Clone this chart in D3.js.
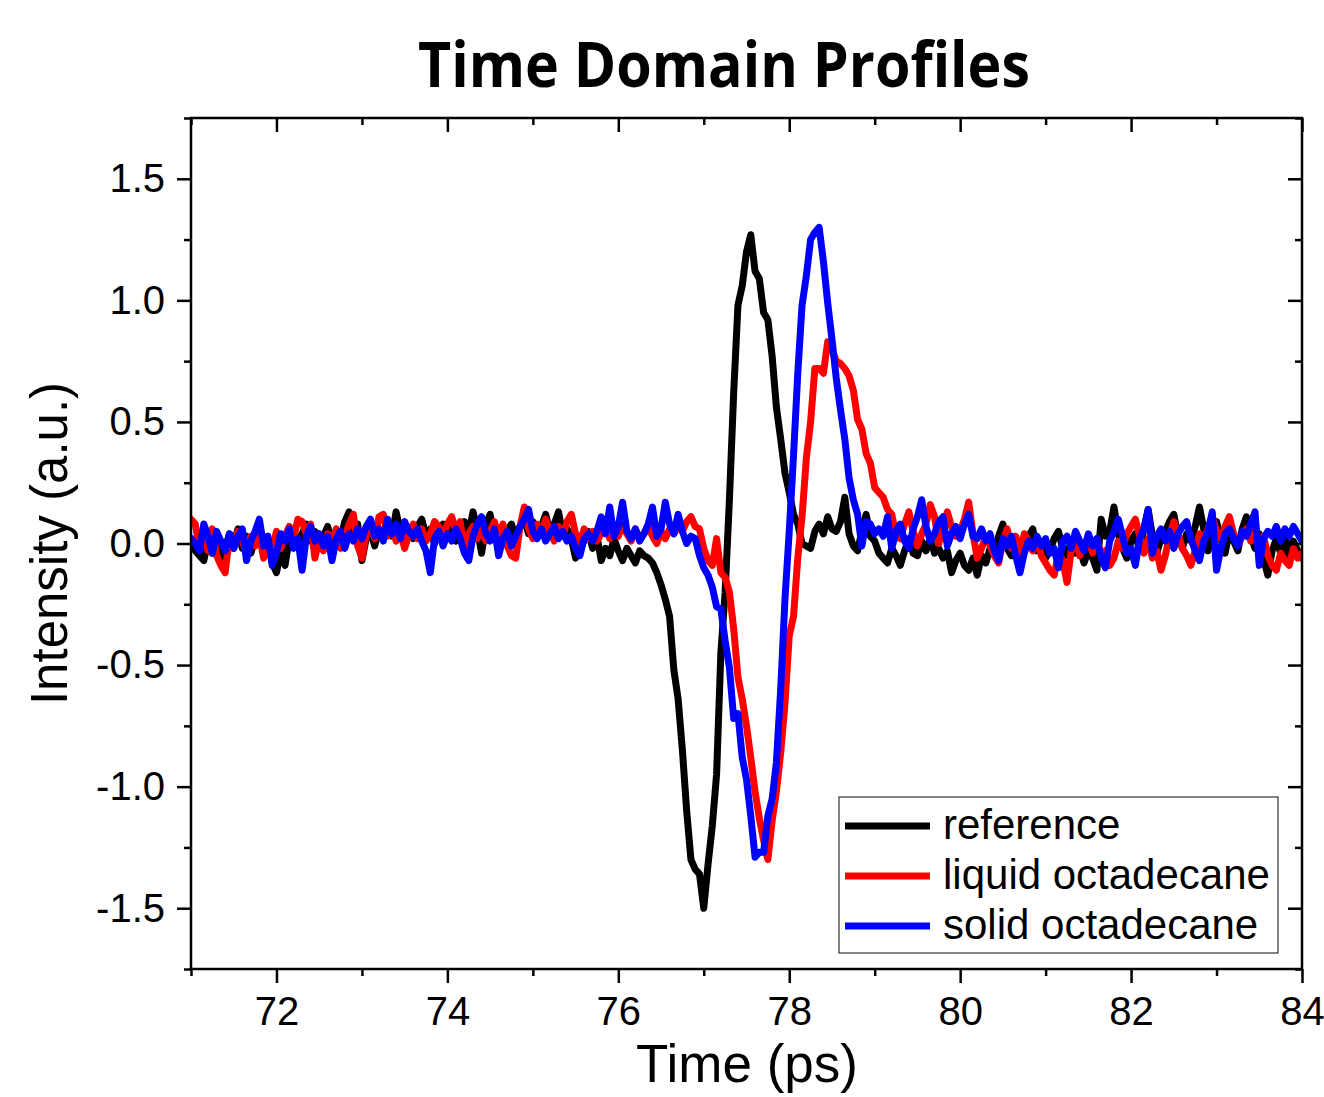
<!DOCTYPE html>
<html>
<head>
<meta charset="utf-8">
<script src="https://cdn.jsdelivr.net/npm/d3@7/dist/d3.min.js"></script>
<style>
  html, body { margin: 0; padding: 0; background: #fff; }
  svg { display: block; }
</style>
</head>
<body>
<svg id="chart"></svg>
<script>
// Sampling grid (ps): 71.00 ... 84.00, one sample every 0.05 ps
const timeStart = 71;
const timeStep = 0.05;

// Intensity (a.u.), one row per picosecond
const reference = [
  0.02,-0.03,-0.05,-0.07,0.01,-0.04,0.03,-0.06,-0.02,0.04,0.00,0.06,-0.02,0.03,-0.04,0.02,0.05,-0.03,0.01,-0.08,
  -0.12,-0.03,-0.09,0.02,0.06,-0.01,0.04,0.08,0.01,0.05,-0.02,0.03,0.07,0.00,0.05,0.02,0.09,0.13,0.04,0.08,
  -0.07,0.02,0.05,-0.01,0.06,0.02,0.08,0.03,0.13,0.05,0.01,0.06,0.02,0.07,0.10,0.03,0.06,0.00,0.05,0.08,
  0.03,0.07,0.01,0.05,0.09,0.04,0.13,0.06,-0.04,0.08,0.12,0.03,0.06,0.01,0.05,0.08,0.02,0.07,0.10,0.04,
  0.09,0.03,0.07,0.12,0.05,0.08,0.13,0.04,0.06,0.02,-0.06,0.03,0.01,0.05,-0.02,0.03,-0.07,-0.02,-0.05,0.02,
  -0.03,-0.07,-0.02,-0.05,-0.08,-0.03,-0.05,-0.06,-0.08,-0.12,-0.17,-0.23,-0.30,-0.52,-0.64,-0.85,-1.10,-1.30,-1.34,-1.36,
  -1.50,-1.32,-1.16,-0.95,-0.45,-0.20,0.18,0.62,0.98,1.06,1.20,1.27,1.12,1.09,0.95,0.92,0.77,0.56,0.43,0.29,
  0.21,0.12,0.08,0.00,-0.01,-0.02,0.05,0.08,0.04,0.11,0.06,0.05,0.09,0.19,0.04,-0.01,-0.03,0.05,0.12,0.03,
  0.01,-0.04,-0.06,-0.08,-0.02,-0.05,-0.09,-0.03,0.02,-0.04,-0.05,0.01,-0.03,0.02,-0.04,-0.02,-0.06,-0.03,-0.12,-0.07,
  -0.04,-0.09,-0.11,-0.06,-0.13,-0.05,-0.08,-0.02,-0.04,0.03,0.08,-0.02,-0.05,0.01,-0.04,-0.01,0.03,0.06,-0.03,-0.01,
  -0.06,-0.03,0.02,0.05,-0.02,-0.05,0.01,-0.04,-0.02,-0.08,-0.03,-0.06,-0.11,0.10,0.03,0.05,0.15,0.04,-0.02,-0.06,
  0.01,0.04,-0.03,0.06,0.14,0.03,-0.04,0.02,0.05,0.09,0.12,0.03,-0.02,0.04,0.01,0.07,0.15,0.06,-0.03,0.04,
  0.09,0.02,-0.04,0.05,0.01,-0.03,0.06,0.11,0.03,-0.02,0.04,-0.06,-0.13,-0.03,0.02,-0.04,0.05,-0.08,0.01,-0.03,
  -0.06
];

const liquid = [
  0.10,0.08,-0.02,0.04,-0.03,0.06,-0.05,-0.09,-0.12,0.03,-0.02,0.05,0.01,-0.04,0.03,-0.01,0.04,-0.06,0.02,-0.03,
  0.05,-0.02,0.03,0.07,0.02,0.10,0.09,0.04,0.08,-0.06,0.02,-0.03,0.04,0.01,0.06,-0.02,0.03,0.08,0.12,-0.01,
  -0.06,0.04,0.07,0.02,0.11,0.12,0.03,0.07,0.01,0.05,-0.02,0.04,0.08,0.02,0.06,0.01,0.04,0.09,0.07,0.03,
  0.08,0.11,0.05,0.09,-0.03,0.04,0.07,0.02,0.06,0.01,0.05,0.09,0.03,0.08,-0.01,-0.05,-0.06,0.07,0.15,0.06,
  0.02,0.08,0.04,0.10,0.05,0.01,0.07,0.03,0.09,0.12,0.04,0.00,0.06,0.02,0.05,0.01,0.04,0.07,0.02,0.05,
  0.03,0.08,0.04,0.01,0.06,0.02,0.04,0.07,0.03,0.00,0.05,0.02,0.06,0.04,0.07,0.05,0.09,0.11,0.07,0.06,
  -0.02,-0.07,-0.09,0.02,-0.12,-0.14,-0.20,-0.35,-0.55,-0.64,-0.75,-0.88,-1.02,-1.13,-1.22,-1.30,-1.14,-1.02,-0.86,-0.66,
  -0.38,-0.30,-0.06,0.11,0.35,0.50,0.72,0.72,0.70,0.83,0.80,0.75,0.74,0.72,0.69,0.63,0.51,0.47,0.37,0.33,
  0.23,0.21,0.19,0.14,0.12,0.03,0.02,0.08,0.13,0.05,-0.01,0.04,0.08,0.16,0.11,0.00,0.06,0.13,0.07,0.03,
  0.05,0.10,0.17,0.04,-0.06,-0.02,0.03,-0.01,-0.05,-0.08,0.01,0.06,-0.02,0.03,-0.04,0.04,0.01,-0.03,0.02,-0.05,
  -0.08,-0.11,-0.13,-0.04,-0.07,-0.16,-0.03,0.02,-0.05,-0.01,0.03,-0.04,0.02,-0.05,-0.03,-0.09,-0.06,0.01,-0.02,0.04,
  0.07,0.10,0.03,-0.04,0.02,-0.06,-0.03,-0.11,-0.05,0.03,0.09,0.04,-0.02,-0.05,-0.09,-0.03,0.04,0.01,0.06,0.11,
  0.05,0.02,0.07,0.11,0.04,-0.01,0.03,0.06,0.01,0.05,-0.02,0.03,-0.05,-0.09,-0.11,-0.04,-0.07,-0.09,-0.02,-0.06,
  -0.04
];

const solid = [
  0.02,0.00,-0.03,0.08,0.03,-0.04,0.05,0.01,-0.03,0.04,-0.02,0.03,0.06,-0.07,0.01,0.05,0.10,-0.01,0.03,-0.09,
  -0.04,0.04,0.01,0.06,-0.02,0.02,-0.11,0.03,0.07,0.01,0.04,-0.01,0.03,-0.07,0.02,0.05,-0.02,0.04,0.01,0.06,
  0.02,0.07,0.10,0.03,0.06,0.01,0.10,0.04,0.08,0.02,0.09,0.05,0.03,0.06,0.01,-0.03,-0.12,0.02,0.05,-0.01,
  0.04,0.01,0.06,0.02,-0.04,-0.07,0.03,0.08,0.11,0.04,0.01,0.06,-0.05,0.02,0.05,-0.01,0.03,0.07,0.10,0.14,
  0.05,0.02,0.06,0.01,0.04,0.07,0.02,0.05,0.01,0.03,-0.02,-0.05,0.02,0.04,0.01,0.05,0.11,0.04,0.15,0.03,
  0.07,0.17,0.05,0.02,0.06,0.01,0.04,0.08,0.15,0.03,0.06,0.17,0.08,0.04,0.12,0.05,0.00,0.03,0.02,-0.05,
  -0.10,-0.13,-0.18,-0.26,-0.27,-0.40,-0.51,-0.72,-0.70,-0.88,-0.97,-1.12,-1.29,-1.27,-1.27,-1.12,-1.05,-0.90,-0.60,-0.23,
  0.05,0.36,0.70,0.98,1.10,1.25,1.28,1.30,1.16,0.99,0.84,0.68,0.55,0.43,0.27,0.18,0.12,-0.01,0.09,0.08,
  0.04,0.06,0.03,0.11,-0.02,0.05,0.08,0.01,-0.02,0.06,0.11,0.18,0.07,0.01,0.04,0.09,0.11,-0.01,0.04,0.07,
  0.02,0.08,0.12,0.03,0.02,0.06,0.01,0.04,-0.03,-0.07,0.02,-0.01,0.03,-0.05,-0.12,-0.04,0.01,-0.02,0.03,-0.01,
  0.02,-0.04,-0.02,-0.10,0.01,0.03,-0.02,0.05,0.01,-0.03,0.04,-0.01,0.02,-0.06,-0.10,0.01,0.05,0.10,0.03,-0.04,
  -0.02,-0.09,0.02,0.06,0.14,-0.04,0.03,0.06,0.01,0.05,-0.02,0.04,0.07,0.09,0.02,-0.03,-0.07,0.01,0.05,0.13,
  -0.11,-0.02,0.04,0.06,0.02,-0.01,0.05,0.03,0.08,0.13,-0.09,0.02,0.05,0.03,0.07,0.01,0.06,0.03,0.07,0.04,
  0.01
];

const seriesNames = ["reference", "liquid octadecane", "solid octadecane"];
const seriesColors = ["#000000", "#ff0000", "#0000ff"];
const seriesValues = [reference, liquid, solid];

const xMajorTicks = [72, 74, 76, 78, 80, 82, 84];
const xMinorTicks = [71, 73, 75, 77, 79, 81, 83];
const yMajorTicks = [-1.5, -1.0, -0.5, 0.0, 0.5, 1.0, 1.5];
const yMinorTicks = [-1.75, -1.25, -0.75, -0.25, 0.25, 0.75, 1.25, 1.75];

// Chart dimensions
const W = 1324, H = 1097;
const margin = { top: 118, right: 22, bottom: 128, left: 191 };
const width = W - margin.left - margin.right;
const height = H - margin.top - margin.bottom;

const svg = d3.select("#chart")
  .attr("width", W)
  .attr("height", H)
  .attr("viewBox", `0 0 ${W} ${H}`);

const g = svg.append("g")
  .attr("transform", `translate(${margin.left},${margin.top})`);

const x = d3.scaleLinear().domain([71, 84]).range([0, width]);
const y = d3.scaleLinear().domain([-1.75, 1.75]).range([height, 0]);

const tickFont = "'Liberation Sans', Arial, sans-serif";
const fmt = d => d.toFixed(1);

// Clip lines to the plot frame
svg.append("defs").append("clipPath")
  .attr("id", "plot-clip")
  .append("rect")
    .attr("width", width)
    .attr("height", height);

// Data lines
const line = d3.line()
  .x((d, i) => x(timeStart + i * timeStep))
  .y(d => y(d));

const lines = g.append("g").attr("clip-path", "url(#plot-clip)");
seriesValues.forEach((vals, k) => {
  lines.append("path")
    .datum(vals)
    .attr("fill", "none")
    .attr("stroke", seriesColors[k])
    .attr("stroke-width", 7)
    .attr("stroke-linejoin", "round")
    .attr("stroke-linecap", "round")
    .attr("d", line);
});

// Axes (ticks out on bottom/left, in on top/right)
function styleAxis(sel) {
  sel.select(".domain").remove();
  sel.selectAll(".tick line").attr("stroke", "#000").attr("stroke-width", 2.5);
  sel.selectAll("text")
    .attr("fill", "#000")
    .style("font-family", tickFont)
    .style("font-size", "40px");
}

g.append("g")
  .attr("transform", `translate(0,${height})`)
  .call(d3.axisBottom(x).tickValues(xMajorTicks).tickFormat(d3.format("d")).tickSize(14).tickPadding(14))
  .call(styleAxis);
g.append("g")
  .attr("transform", `translate(0,${height})`)
  .call(d3.axisBottom(x).tickValues(xMinorTicks).tickFormat("").tickSize(7))
  .call(styleAxis);
g.append("g")
  .call(d3.axisTop(x).tickValues(xMajorTicks).tickFormat("").tickSize(-14))
  .call(styleAxis);
g.append("g")
  .call(d3.axisTop(x).tickValues(xMinorTicks).tickFormat("").tickSize(-7))
  .call(styleAxis);

g.append("g")
  .call(d3.axisLeft(y).tickValues(yMajorTicks).tickFormat(fmt).tickSize(14).tickPadding(12))
  .call(styleAxis);
g.append("g")
  .call(d3.axisLeft(y).tickValues(yMinorTicks).tickFormat("").tickSize(7))
  .call(styleAxis);
g.append("g")
  .attr("transform", `translate(${width},0)`)
  .call(d3.axisRight(y).tickValues(yMajorTicks).tickFormat("").tickSize(-14))
  .call(styleAxis);
g.append("g")
  .attr("transform", `translate(${width},0)`)
  .call(d3.axisRight(y).tickValues(yMinorTicks).tickFormat("").tickSize(-7))
  .call(styleAxis);

// Frame
g.append("rect")
  .attr("width", width)
  .attr("height", height)
  .attr("fill", "none")
  .attr("stroke", "#000")
  .attr("stroke-width", 2.5);

// Titles
svg.append("text")
  .attr("x", 724)
  .attr("y", 87)
  .attr("text-anchor", "middle")
  .attr("textLength", 612)
  .attr("lengthAdjust", "spacingAndGlyphs")
  .style("font-family", "'Open Sans', 'Noto Sans', sans-serif")
  .style("font-weight", "bold")
  .style("font-size", "62px")
  .text("Time Domain Profiles");

svg.append("text")
  .attr("x", 747)
  .attr("y", 1082)
  .attr("text-anchor", "middle")
  .style("font-family", tickFont)
  .style("font-size", "53px")
  .text("Time (ps)");

svg.append("text")
  .attr("transform", `translate(67,${margin.top + y(0)}) rotate(-90)`)
  .attr("text-anchor", "middle")
  .style("font-family", tickFont)
  .style("font-size", "51px")
  .text("Intensity (a.u.)");

// Legend
const legend = g.append("g")
  .attr("transform", `translate(${839 - margin.left},${797 - margin.top})`);

legend.append("rect")
  .attr("width", 439)
  .attr("height", 156)
  .attr("fill", "#fff")
  .attr("stroke", "#333")
  .attr("stroke-width", 1.2);

seriesNames.forEach((name, k) => {
  const ly = 29 + k * 50;
  legend.append("line")
    .attr("x1", 6).attr("x2", 91)
    .attr("y1", ly).attr("y2", ly)
    .attr("stroke", seriesColors[k])
    .attr("stroke-width", 7);
  legend.append("text")
    .attr("x", 104)
    .attr("y", ly + 13)
    .style("font-family", tickFont)
    .style("font-size", "42px")
    .text(name);
});
</script>
</body>
</html>
